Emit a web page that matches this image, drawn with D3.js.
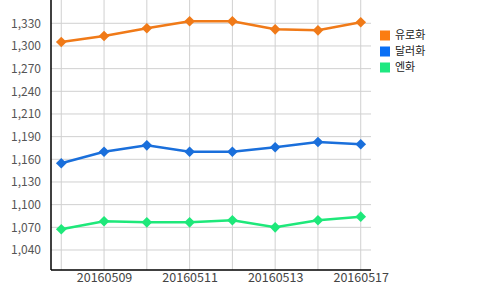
<!DOCTYPE html>
<html>
<head>
<meta charset="utf-8">
<title>환율</title>
<style>
  body { margin: 0; background: #fff; }
  text { font-family: "Noto Sans CJK KR", "Noto Sans", sans-serif; }
  .grid line { stroke: #d0d0d0; stroke-width: 1; }
</style>
</head>
<body>
<script src="https://cdn.jsdelivr.net/npm/d3@7/dist/d3.min.js"></script>
<script>
// DATA
var dates = ["20160504", "20160509", "20160510", "20160511", "20160512", "20160513", "20160516", "20160517"];
var euro = [1306, 1313.8, 1323.6, 1332.6, 1332.6, 1322.3, 1321, 1331.3];
var dollar = [1150.9, 1165.7, 1173.9, 1165.7, 1165.7, 1171.4, 1178.2, 1175.2];
var yen = [1066.5, 1076.7, 1075.4, 1075.4, 1078, 1069, 1078, 1082.6];
var seriesNames = ["유로화", "달러화", "엔화"];
var yTicks = [1040, 1069, 1098, 1127, 1156, 1185, 1214, 1243, 1272, 1301, 1330];
var yTickLabels = ["1,040", "1,070", "1,100", "1,130", "1,160", "1,190", "1,210", "1,240", "1,270", "1,300", "1,330"];
var xTickLabels = ["20160509", "20160511", "20160513", "20160517"];

var colors = ["#f07a18", "#1a6fdb", "#1ee87a"];
var legendColors = ["#fb7d12", "#0a6ff5", "#1ee880"];

var W = 500, H = 290;
var margin = {top: 0, right: 129, bottom: 20, left: 51};
var width = W - margin.left - margin.right;
var height = H - margin.top - margin.bottom;

var svg = d3.select("body").append("svg")
  .attr("width", W)
  .attr("height", H);

var g = svg.append("g")
  .attr("transform", "translate(" + margin.left + "," + margin.top + ")");

var x = d3.scalePoint()
  .domain(dates)
  .range([0, width])
  .padding(0.24);

var y = d3.scaleLinear()
  .domain([1014.4, 1359.8])
  .range([height, 0]);

// grid
g.append("g").attr("class", "grid")
  .selectAll("line").data(yTicks).enter().append("line")
  .attr("x1", 0).attr("x2", width)
  .attr("y1", function(d) { return y(d); })
  .attr("y2", function(d) { return y(d); });

g.append("g").attr("class", "grid")
  .selectAll("line").data(dates).enter().append("line")
  .attr("x1", function(d) { return x(d); })
  .attr("x2", function(d) { return x(d); })
  .attr("y1", 0).attr("y2", height);

// axes
var yAxis = d3.axisLeft(y)
  .tickValues(yTicks)
  .tickSize(0)
  .tickPadding(10)
  .tickFormat(function(d, i) { return yTickLabels[i]; });

var yg = g.append("g").call(yAxis);
yg.select(".domain").remove();
yg.selectAll("text").attr("fill", "#555").style("font-size", "12px");

var xAxis = d3.axisBottom(x)
  .tickValues(xTickLabels)
  .tickSize(0)
  .tickPadding(3);

var xg = g.append("g")
  .attr("transform", "translate(0," + height + ")")
  .call(xAxis);
xg.select(".domain").remove();
xg.selectAll("text").attr("fill", "#444").style("font-size", "12.5px");

g.append("line")
  .attr("x1", 0).attr("x2", 0).attr("y1", 0).attr("y2", height)
  .attr("stroke", "#000").attr("stroke-width", 1.5);
g.append("line")
  .attr("x1", 0).attr("x2", width).attr("y1", height).attr("y2", height)
  .attr("stroke", "#000").attr("stroke-width", 1.5);

// lines
var allSeries = [euro, dollar, yen];
var line = d3.line()
  .x(function(d, i) { return x(dates[i]); })
  .y(function(d) { return y(d); });

var diamond = d3.symbol().type(d3.symbolDiamond2).size(72);

allSeries.forEach(function(s, k) {
  g.append("path")
    .datum(s)
    .attr("fill", "none")
    .attr("stroke", colors[k])
    .attr("stroke-width", 2.5)
    .attr("d", line);

  g.selectAll(".pt" + k)
    .data(s).enter().append("path")
    .attr("class", "pt" + k)
    .attr("d", diamond)
    .attr("fill", colors[k])
    .attr("transform", function(d, i) {
      return "translate(" + x(dates[i]) + "," + y(d) + ")";
    });
});

// legend
var legend = svg.append("g").attr("transform", "translate(380,30.5)");
var items = legend.selectAll("g").data(seriesNames).enter().append("g")
  .attr("transform", function(d, i) { return "translate(0," + (i * 16) + ")"; });
items.append("rect")
  .attr("width", 10).attr("height", 10)
  .attr("fill", function(d, i) { return legendColors[i]; });
items.append("text")
  .attr("x", 15).attr("y", 5).attr("dy", "0.35em")
  .attr("fill", "#222")
  .style("font-size", "11px")
  .text(function(d) { return d; });
</script>
</body>
</html>
